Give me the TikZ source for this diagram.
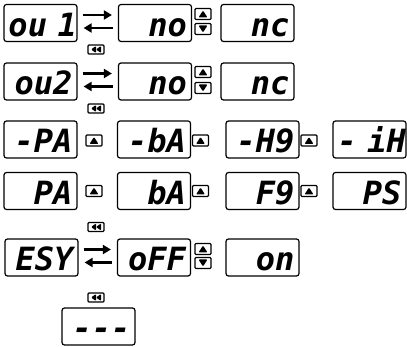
\documentclass[tikz,border=0pt]{standalone}
\usepackage{fontspec}
\newfontfamily\segfont{DejaVu Sans Mono}[WordSpace=0.3]
\usetikzlibrary{arrows.meta}
\newcommand\segtext{\segfont\bfseries\itshape\fontsize{32}{32}\selectfont\hyphenchar\font=-1\relax}

\tikzset{
	disp/.style={draw, line width=1.2pt, rounded corners=2.5pt, minimum width=73pt, minimum height=37pt,
		inner sep=0pt, text width=64pt, align=right, text height=27pt, text depth=0pt, font=\segtext},
	keybox/.style={draw, line width=1.1pt, rounded corners=1pt, minimum width=16pt, minimum height=11pt, inner sep=0pt},
	keyup/.style={keybox, path picture={\fill[shift={(path picture bounding box.center)}] (-4.5pt,-3.5pt) -- (4.5pt,-3.5pt) -- (0pt,3.5pt) -- cycle;}},
	keydown/.style={keybox, path picture={\fill[shift={(path picture bounding box.center)}] (-4.5pt,3.5pt) -- (4.5pt,3.5pt) -- (0pt,-3.5pt) -- cycle;}},
	keyback/.style={keybox, minimum height=9pt, path picture={\fill[shift={(path picture bounding box.center)}] (-5pt,0pt) -- (0pt,3.5pt) -- (0pt,-3.5pt) -- cycle (0pt,0pt) -- (5pt,3.5pt) -- (5pt,-3.5pt) -- cycle;}},
	swap/.style={line width=2.2pt, -{Triangle[length=8pt,width=9pt]}, shorten <=5pt, shorten >=6pt}
}

\begin{document}
\begin{tikzpicture}[x=1pt, y=-1pt]
	\useasboundingbox (0, 0) rectangle (407, 347);
	% Displays:
	\node[disp] (ou1) at (40.5, 23){ou~1};
	\node[disp] (no1) at (155, 23){no};
	\node[disp] (nc1) at (257.5, 23){nc};
	\node[disp] (ou2) at (40.5, 81.5){ou2};
	\node[disp] (no2) at (155, 81.5){no};
	\node[disp] (nc2) at (257.5, 81.5){nc};
	\node[disp] (pa3) at (40.5, 139.5){-PA};
	\node[disp] (ba3) at (154, 139.5){-bA};
	\node[disp] (hg3) at (262.5, 139.5){-H9};
	\node[disp] (ih3) at (369.5, 139.5){-~iH};
	\node[disp] (pa4) at (40.5, 191){PA};
	\node[disp] (ba4) at (154, 191){bA};
	\node[disp] (fg4) at (262.5, 191){F9};
	\node[disp] (ps4) at (369.5, 191){PS};
	\node[disp] (esy) at (41.5, 257.5){ESY};
	\node[disp] (off) at (154, 257.5){oFF};
	\node[disp] (on) at (262.5, 257.5){on};
	\node[disp] (dash) at (98.5, 326.5){---};
	% Keys:
	\node[keyup] (up1) at (203, 14){};
	\node[keydown] (dn1) at (203, 29){};
	\node[keyback] (bk1) at (96, 49.5){};
	\node[keyup] (up2) at (203, 72){};
	\node[keydown] (dn2) at (203, 88){};
	\node[keyback] (bk2) at (96, 108.5){};
	\node[keyup] (up31) at (94, 140.5){};
	\node[keyup] (up32) at (200.5, 140.5){};
	\node[keyup] (up33) at (309, 140.5){};
	\node[keyup] (up41) at (94, 191){};
	\node[keyup] (up42) at (200.5, 191){};
	\node[keyup] (up43) at (309, 191){};
	\node[keyback] (bk3) at (96, 227){};
	\node[keyup] (up5) at (203, 249){};
	\node[keydown] (dn5) at (203, 263){};
	\node[keyback] (bk4) at (96, 297.5){};
	% Arrows:
	\draw[swap] ([yshift=8pt]ou1.east) -- ([yshift=8pt]no1.west);
	\draw[swap] ([yshift=-5pt]no1.west) -- ([yshift=-5pt]ou1.east);
	\draw[swap] ([yshift=8pt]ou2.east) -- ([yshift=8pt]no2.west);
	\draw[swap] ([yshift=-5pt]no2.west) -- ([yshift=-5pt]ou2.east);
	\draw[swap] ([yshift=8pt]esy.east) -- ([yshift=8pt]off.west);
	\draw[swap] ([yshift=-5pt]off.west) -- ([yshift=-5pt]esy.east);
\end{tikzpicture}
\end{document}
